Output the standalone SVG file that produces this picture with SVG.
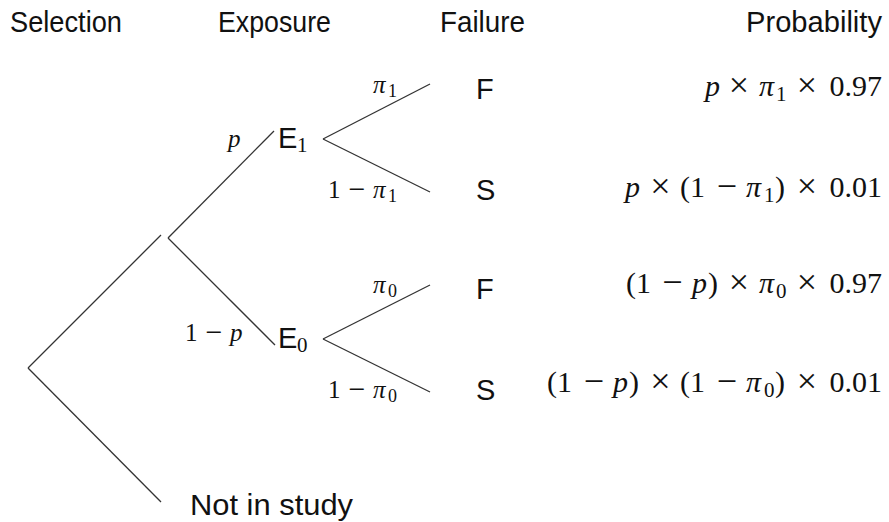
<svg xmlns="http://www.w3.org/2000/svg" width="889" height="522" viewBox="0 0 889 522">
<style>
.h{font-family:"Liberation Sans",Arial,sans-serif;font-size:29px;fill:#111}
.m{font-family:"Liberation Serif","Times New Roman",serif;font-size:30px;fill:#111}
.op{font-family:"Liberation Serif","Times New Roman",serif;font-size:36px;fill:#111;text-anchor:middle}
.e{font-family:"Liberation Serif","Times New Roman",serif;font-size:25px;fill:#111}
.eop{font-family:"Liberation Serif","Times New Roman",serif;font-size:30px;fill:#111;text-anchor:middle}
.s21{font-family:"Liberation Serif","Times New Roman",serif;font-size:21px;fill:#111}
.s18{font-family:"Liberation Serif","Times New Roman",serif;font-size:18px;fill:#111}
.i{font-style:italic}
.end{text-anchor:end}
.c line{stroke:#333;stroke-width:1.3;fill:none}
</style>
<rect width="889" height="522" fill="#fff"/>
<g id="headers">
<text class="h" x="10" y="32" textLength="112" lengthAdjust="spacingAndGlyphs">Selection</text>
<text class="h" x="218" y="32" textLength="113" lengthAdjust="spacingAndGlyphs">Exposure</text>
<text class="h" x="440" y="32" textLength="85" lengthAdjust="spacingAndGlyphs">Failure</text>
<text class="h" x="746" y="32" textLength="136" lengthAdjust="spacingAndGlyphs">Probability</text>
</g>
<g class="c" id="connectors">
<line x1="28" y1="368" x2="161" y2="235"/>
<line x1="28" y1="368" x2="161" y2="502"/>
<line x1="168" y1="238" x2="274" y2="131"/>
<line x1="168" y1="238" x2="275" y2="345"/>
<line x1="323" y1="139" x2="430" y2="84"/>
<line x1="323" y1="139" x2="430" y2="192"/>
<line x1="323" y1="339" x2="430" y2="285"/>
<line x1="323" y1="339" x2="430" y2="392"/>
</g>
<g id="edge-labels">
<text class="e i" x="228" y="147">p</text>
<g id="lbl-1-p">
<text class="e" x="185" y="341">1</text>
<text class="eop" x="214" y="342">−</text>
<text class="e i" x="230" y="341">p</text>
</g>
<g id="lbl-pi1">
<text class="e i" x="373" y="93">π</text>
<text class="s18" x="388" y="97">1</text>
</g>
<g id="lbl-1-pi1">
<text class="e" x="328" y="198">1</text>
<text class="eop" x="357" y="199">−</text>
<text class="e i" x="373" y="198">π</text>
<text class="s18" x="388" y="202">1</text>
</g>
<g id="lbl-pi0">
<text class="e i" x="373" y="293">π</text>
<text class="s18" x="388" y="297">0</text>
</g>
<g id="lbl-1-pi0">
<text class="e" x="328" y="398">1</text>
<text class="eop" x="357" y="399">−</text>
<text class="e i" x="373" y="398">π</text>
<text class="s18" x="388" y="402">0</text>
</g>
</g>
<g id="E1"><text class="h" x="278" y="148">E</text><text class="s21" x="297" y="152">1</text></g>
<g id="E0"><text class="h" x="278" y="348">E</text><text class="s21" x="297" y="352">0</text></g>
<g id="F1"><text class="h" x="476" y="99">F</text></g>
<g id="S1"><text class="h" x="476" y="200">S</text></g>
<g id="F0"><text class="h" x="476" y="299">F</text></g>
<g id="S0"><text class="h" x="476" y="400">S</text></g>
<g id="notinstudy"><text class="h" x="190" y="515" textLength="163" lengthAdjust="spacingAndGlyphs">Not in study</text></g>
<g id="prob1">
<text class="m i" x="705" y="96">p</text>
<text class="op" x="739" y="97">×</text>
<text class="m i" x="759" y="96">π</text>
<text class="s21" x="776" y="101">1</text>
<text class="op" x="807" y="97">×</text>
<text class="m end" x="882" y="96">0.97</text>
</g>
<g id="prob2">
<text class="m i" x="625" y="197">p</text>
<text class="op" x="660.5" y="198">×</text>
<text class="m" x="680" y="197">(1</text>
<text class="op" x="727" y="198">−</text>
<text class="m i" x="746" y="197">π</text>
<text class="s21" x="764" y="202">1</text>
<text class="m" x="775" y="197">)</text>
<text class="op" x="807" y="198">×</text>
<text class="m end" x="882" y="197">0.01</text>
</g>
<g id="prob3">
<text class="m" x="626" y="293">(1</text>
<text class="op" x="672.5" y="294">−</text>
<text class="m i" x="692" y="293">p</text>
<text class="m" x="708" y="293">)</text>
<text class="op" x="739" y="294">×</text>
<text class="m i" x="759" y="293">π</text>
<text class="s21" x="776" y="298">0</text>
<text class="op" x="807" y="294">×</text>
<text class="m end" x="882" y="293">0.97</text>
</g>
<g id="prob4">
<text class="m" x="547" y="392">(1</text>
<text class="op" x="594" y="393">−</text>
<text class="m i" x="613" y="392">p</text>
<text class="m" x="629" y="392">)</text>
<text class="op" x="660.5" y="393">×</text>
<text class="m" x="680" y="392">(1</text>
<text class="op" x="727" y="393">−</text>
<text class="m i" x="746" y="392">π</text>
<text class="s21" x="764" y="397">0</text>
<text class="m" x="775" y="392">)</text>
<text class="op" x="807" y="393">×</text>
<text class="m end" x="882" y="392">0.01</text>
</g>
</svg>
